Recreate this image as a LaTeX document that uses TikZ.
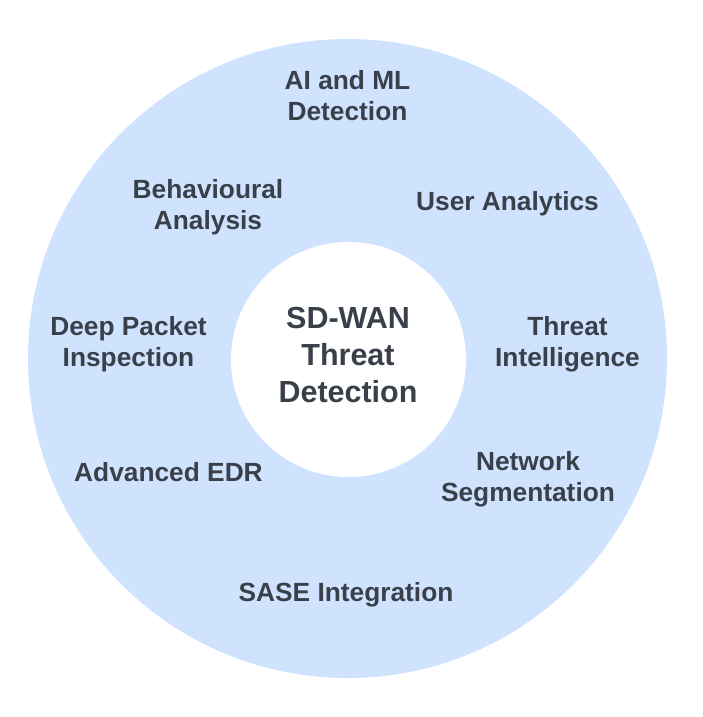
\documentclass[tikz,border=0pt]{standalone}
\usepackage{fontspec}
\setmainfont{Liberation Sans}
\definecolor{ringblue}{HTML}{CFE3FF}
\definecolor{labelgray}{HTML}{3A404A}
\tikzset{
  outerlbl/.style={inner sep=0pt, align=center, text=labelgray,
    font=\fontsize{26.3}{31}\selectfont\bfseries},
  centerlbl/.style={inner sep=0pt, align=center, text=labelgray,
    font=\fontsize{30.5}{37}\selectfont\bfseries},
}
\begin{document}
\begin{tikzpicture}[x=1pt,y=-1pt]
\useasboundingbox (0,0) rectangle (702,717);
\fill[ringblue] (347.5,358.5) circle[radius=319.5];
\fill[white] (348.5,359.5) circle[radius=117.5];
\node[centerlbl] (core) at (348,358.3) {\strut SD-WAN\\\strut Threat\\\strut Detection};
\node[outerlbl] (aiml) at (347.5,99) {\strut AI and ML\\\strut Detection};
\node[outerlbl] (behav) at (208,207.3) {\strut Behavioural\\\strut Analysis};
\node[outerlbl] (user) at (507.5,204.5) {\strut User Analytics};
\node[outerlbl] (dpi) at (128.5,344.6) {\strut Deep Packet\\\strut Inspection};
\node[outerlbl] (ti) at (567.5,345) {\strut Threat\\\strut Intelligence};
\node[outerlbl] (edr) at (168.5,475.5) {\strut Advanced EDR};
\node[outerlbl] (seg) at (528,480) {\strut Network\\\strut Segmentation};
\node[outerlbl] (sase) at (346,595) {\strut SASE Integration};
\end{tikzpicture}
\end{document}
